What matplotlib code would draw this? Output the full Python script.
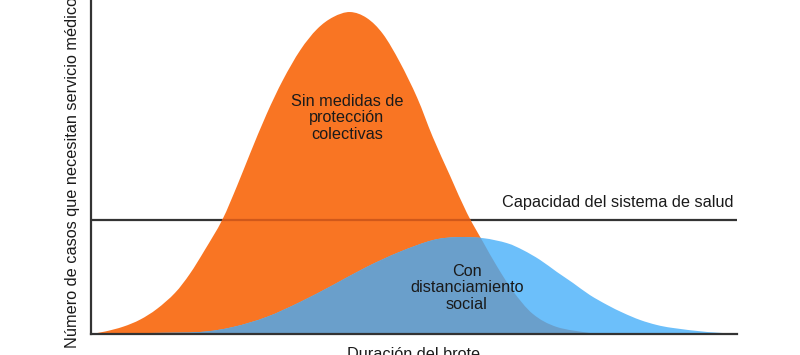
import matplotlib
matplotlib.use("Agg")
import matplotlib.pyplot as plt
from matplotlib.path import Path
from matplotlib.patches import PathPatch

plt.rcParams['font.family'] = ['Liberation Sans', 'DejaVu Sans']

# curves: x = outbreak duration (0-100), y = cases (0-100)
sin_x = [0, 2.2, 5.0, 7.6, 10.2, 13.0, 15.3, 17.6, 20.3, 22.6, 24.6, 27.2, 29.7,
         32.4, 35.0, 37.5, 40.1, 42.7, 45.2, 47.8, 50.5, 52.9, 55.6, 58.2, 60.7,
         62.8, 65.3, 68.4, 72.1, 77.2, 78.8]
sin_y = [0, 0.75, 2.2, 4.3, 7.5, 12.3, 18.0, 25.1, 34.1, 44.3, 53.9, 65.9, 76.0,
         85.0, 91.3, 94.9, 96.4, 94.6, 89.8, 81.4, 70.7, 59.0, 47.3, 36.2, 27.5,
         20.4, 12.9, 6.0, 2.1, 0.3, 0]

con_x = [0, 9.1, 16.9, 22.0, 27.2, 32.4, 37.5, 42.7, 47.8, 52.9, 56.7, 60.7, 64.4,
         66.9, 69.5, 72.1, 74.6, 77.2, 79.9, 82.4, 85.0, 87.6, 90.1, 95.4, 100]
con_y = [0, 0.3, 0.6, 2.1, 5.1, 9.6, 14.7, 20.1, 24.6, 28.1, 29.0, 28.7, 27.2,
         25.1, 22.2, 18.6, 15.3, 11.7, 8.7, 6.3, 4.2, 2.7, 1.8, 0.6, 0.1]

capacidad = 34.1

label_sin = "Sin medidas de\nprotección\ncolectivas"
label_con = "Con\ndistanciamiento\nsocial"
label_cap = "Capacidad del sistema de salud"
ylabel = "Número de casos que necesitan servicio médico"
xlabel = "Duración del brote"

naranja = "#F97523"
azul = "#6CBFFA"
mezcla = "#6A9FCB"
gris = "#333333"
texto = "#1a1a1a"


def area_path(xs, ys):
    # smooth (Catmull-Rom as Bezier) outline through the read points, closed on y=0
    pts = list(zip(xs, ys))
    verts = [pts[0]]
    codes = [Path.MOVETO]
    n = len(pts)
    for i in range(n - 1):
        p0 = pts[i - 1] if i > 0 else pts[i]
        p1 = pts[i]
        p2 = pts[i + 1]
        p3 = pts[i + 2] if i + 2 < n else p2
        c1 = (p1[0] + (p2[0] - p0[0]) / 6, p1[1] + (p2[1] - p0[1]) / 6)
        c2 = (p2[0] - (p3[0] - p1[0]) / 6, p2[1] - (p3[1] - p1[1]) / 6)
        verts += [c1, c2, p2]
        codes += [Path.CURVE4] * 3
    verts += [(xs[-1], 0), (xs[0], 0), (xs[0], 0)]
    codes += [Path.LINETO, Path.LINETO, Path.CLOSEPOLY]
    return Path(verts, codes)


fig = plt.figure(figsize=(8, 3.55), dpi=100)
ax = fig.add_axes([91 / 800, 21 / 355, 646 / 800, 334 / 355])
ax.set_xlim(0, 100)
ax.set_ylim(0, 100)

ax.axhline(capacidad, color=gris, lw=1.6, zorder=1)

orange = PathPatch(area_path(sin_x, sin_y), fc=naranja, lw=0, zorder=2)
ax.add_patch(orange)
ax.add_patch(PathPatch(area_path(con_x, con_y), fc=azul, lw=0, zorder=3))
overlap = PathPatch(area_path(con_x, con_y), fc=mezcla, lw=0, zorder=4)
ax.add_patch(overlap)
overlap.set_clip_path(orange)

# capacity line shows through the orange as a darker orange
line2 = ax.axhline(capacidad, color="#D0581A", lw=1.6, zorder=5)
line2.set_clip_path(orange)

ax.text(39.6, 64.7, label_sin, ha='center', va='center', fontsize=11.7,
        linespacing=1.1, color=texto, zorder=6)
ax.text(58.2, 13.8, label_con, ha='center', va='center', fontsize=11.7,
        linespacing=1.1, color=texto, zorder=6)
ax.text(99.5, 38.0, label_cap, ha='right', va='baseline', fontsize=11.7,
        color=texto, zorder=6)

for s in ['top', 'right']:
    ax.spines[s].set_visible(False)
for s in ['left', 'bottom']:
    ax.spines[s].set_color(gris)
    ax.spines[s].set_linewidth(1.6)
    ax.spines[s].set_zorder(7)
ax.set_xticks([])
ax.set_yticks([])

fig.text(73 / 800, 7 / 355, ylabel, rotation=90, ha='center', va='bottom',
         fontsize=11.7, color=texto)
fig.text(414 / 800, -4 / 355, xlabel, ha='center', va='baseline',
         fontsize=11.7, color=texto)

fig.savefig("out.png", dpi=100)
